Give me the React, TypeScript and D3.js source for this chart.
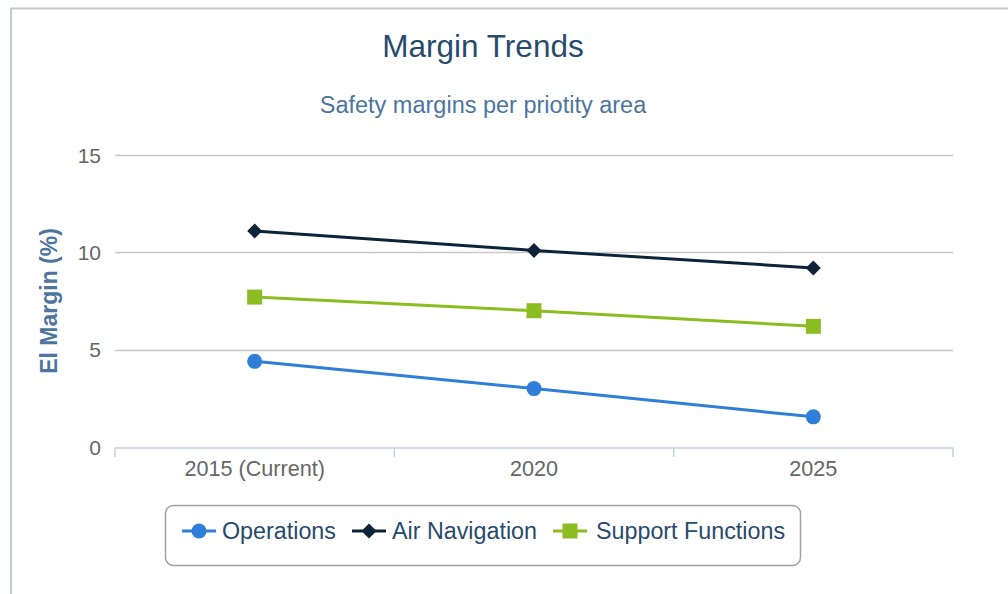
import React from 'react';
import * as d3 from 'd3';

const categories = ['2015 (Current)', '2020', '2025'];
const operations = [4.4, 3.0, 1.55];
const airNavigation = [11.1, 10.1, 9.2];
const supportFunctions = [7.7, 7.0, 6.2];
const yTicks = [0, 5, 10, 15];

const series = [
  { name: 'Operations', values: operations, color: '#2f7ed8', symbol: 'circle' },
  { name: 'Air Navigation', values: airNavigation, color: '#0d233a', symbol: 'diamond' },
  { name: 'Support Functions', values: supportFunctions, color: '#8bbc21', symbol: 'square' },
];

const W = 1008;
const H = 594;
const font = '"Liberation Sans", Arial, sans-serif';

// highcharts-style markers
function markerPath(kind: string) {
  if (kind === 'circle') {
    const p = d3.path();
    p.arc(0, 0, 7.5, 0, Math.PI * 2);
    return p.toString();
  }
  if (kind === 'diamond') return 'M0,-7.5L7.5,0L0,7.5L-7.5,0Z';
  return 'M-7.5,-7.5H7.5V7.5H-7.5Z';
}

function Marker({ kind, x, y, color }: { kind: string; x: number; y: number; color: string }) {
  return <path d={markerPath(kind)} transform={`translate(${x},${y})`} fill={color} />;
}

export default function App() {
  const left = 115;
  const right = 953;
  const top = 155;
  const bottom = 447;

  const x = d3.scaleBand().domain(categories).range([left, right]);
  const y = d3.scaleLinear().domain([0, 15]).range([bottom, top]);
  const cx = (i: number) => (x(categories[i]) as number) + x.bandwidth() / 2;
  const line = d3
    .line<number>()
    .x((_, i) => cx(i))
    .y((d) => y(d));

  const boundaries = [...categories.map((c) => x(c) as number), right];

  // legend layout
  const legendItems = [
    { sx: 199, tx: 222 },
    { sx: 369, tx: 392 },
    { sx: 570, tx: 596 },
  ];

  return (
    <div style={{ position: 'fixed', left: 0, top: 0 }}>
      <svg width={W} height={H} style={{ display: 'block', fontFamily: font }}>
        <rect x={0} y={0} width={W} height={H} fill="#fff" />
        {/* frame */}
        <line x1={11} x2={W} y1={8.5} y2={8.5} stroke="#c3c9ce" strokeWidth={2} />
        <line x1={11} x2={11} y1={8} y2={H} stroke="#c3c9ce" strokeWidth={2} />

        <text x={483} y={57} textAnchor="middle" fontSize={31.5} fill="#274b6d">
          Margin Trends
        </text>
        <text x={483} y={113} textAnchor="middle" fontSize={23.5} fill="#4d759e">
          Safety margins per priotity area
        </text>

        {/* grid */}
        {yTicks.map((t) =>
          t === 0 ? null : (
            <line key={t} x1={left} x2={right} y1={Math.round(y(t)) + 0.5} y2={Math.round(y(t)) + 0.5} stroke="#c8c8c8" strokeWidth={1.5} />
          )
        )}
        {yTicks.map((t) => (
          <text key={'l' + t} x={101} y={y(t) + 7.5} textAnchor="end" fontSize={21} fill="#666">
            {t}
          </text>
        ))}
        <text
          transform={`translate(57,${(top + bottom) / 2}) rotate(-90)`}
          textAnchor="middle"
          fontSize={23}
          fontWeight="bold"
          fill="#4d759e"
        >
          El Margin (%)
        </text>

        {/* x axis */}
        <line x1={left} x2={right} y1={448} y2={448} stroke="#c0d0e0" strokeWidth={1.5} />
        {boundaries.map((b, i) => (
          <line key={i} x1={b} x2={b} y1={448} y2={457} stroke="#c0d0e0" strokeWidth={1.5} />
        ))}
        {categories.map((c, i) => (
          <text key={c} x={cx(i)} y={476} textAnchor="middle" fontSize={21.6} fill="#666">
            {c}
          </text>
        ))}

        {/* series */}
        {series.map((s) => (
          <g key={s.name}>
            <path d={line(s.values) || ''} fill="none" stroke={s.color} strokeWidth={3} />
            {s.values.map((v, i) => (
              <Marker key={i} kind={s.symbol} x={cx(i)} y={y(v)} color={s.color} />
            ))}
          </g>
        ))}

        {/* legend */}
        <rect x={165.5} y={505.5} width={635} height={60} rx={8} fill="#fff" stroke="#a0a0a0" strokeWidth={1.5} />
        {series.map((s, i) => (
          <g key={'lg' + s.name}>
            <line x1={legendItems[i].sx - 17} x2={legendItems[i].sx + 17} y1={531} y2={531} stroke={s.color} strokeWidth={3} />
            <Marker kind={s.symbol} x={legendItems[i].sx} y={531} color={s.color} />
            <text x={legendItems[i].tx} y={539} fontSize={23.3} fill="#274b6d">
              {s.name}
            </text>
          </g>
        ))}
      </svg>
    </div>
  );
}
